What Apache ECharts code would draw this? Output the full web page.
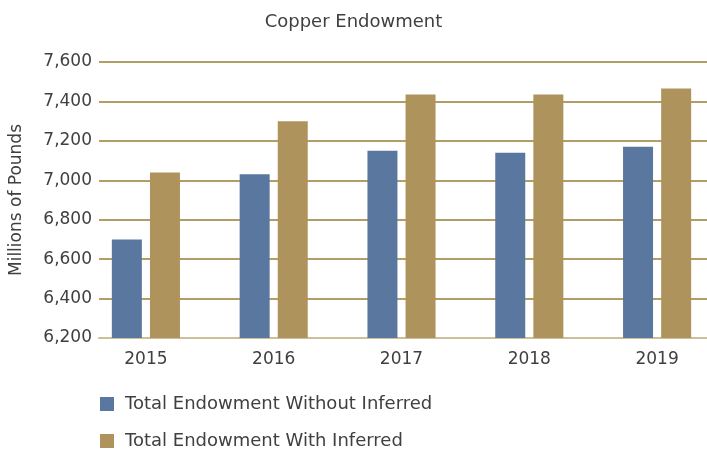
<!DOCTYPE html>
<html><head><meta charset="utf-8">
<script src="https://cdn.jsdelivr.net/npm/echarts@6/dist/echarts.min.js"></script>
<style>html,body{margin:0;padding:0;background:#fff}#c{width:707px;height:451px}</style>
</head><body><div id="c"></div>
<script>
const categories = ['2015', '2016', '2017', '2018', '2019'];
const withoutInferred = [6700, 7030, 7150, 7140, 7170];
const withInferred = [7040, 7300, 7435, 7435, 7465];
const seriesNames = ['Total Endowment Without Inferred', 'Total Endowment With Inferred'];
const yMin = 6200, yMax = 7600, yStep = 200;

const FONT = 'DejaVu Sans';
const TXT = '#404040';
const chart = echarts.init(document.getElementById('c'), null, {renderer: 'canvas'});
chart.setOption({
  animation: false,
  title: {text: 'Copper Endowment', left: 'center', top: 8,
    textStyle: {fontFamily: FONT, fontSize: 18, fontWeight: 'normal', color: TXT}},
  legend: {orient: 'vertical', left: 100, top: 394, height: 60, itemWidth: 14, itemHeight: 14, itemGap: 17,
    icon: 'rect', data: seriesNames, padding: 0,
    textStyle: {fontFamily: FONT, fontSize: 18, lineHeight: 20, color: TXT, padding: [0, 0, 0, 6]}},
  grid: [
    {left: 99, right: 0, top: 62, bottom: 113, outerBoundsMode: 'none'},
    {left: 82, right: -14, top: 62, bottom: 113, outerBoundsMode: 'none'}
  ],
  xAxis: [
    {gridIndex: 0, type: 'value', min: 0, max: 1, axisLabel: {show: false}, splitLine: {show: false},
      axisTick: {show: false}, axisLine: {show: true, lineStyle: {color: '#cdbf98', width: 2}}},
    {gridIndex: 1, type: 'category', data: categories, axisLine: {show: false}, axisTick: {show: false},
      axisLabel: {fontFamily: FONT, fontSize: 17, color: TXT, margin: 13}}
  ],
  yAxis: [
    {gridIndex: 0, type: 'value', min: yMin, max: yMax, interval: yStep,
      name: 'Millions of Pounds', nameLocation: 'middle', nameGap: 74,
      nameTextStyle: {fontFamily: FONT, fontSize: 17, color: TXT},
      axisLine: {show: false}, axisTick: {show: false},
      axisLabel: {fontFamily: FONT, fontSize: 17, color: TXT, margin: 7,
        formatter: v => v.toLocaleString('en-US')},
      splitLine: {lineStyle: {color: '#b39d66', width: 2}}},
    {gridIndex: 1, type: 'value', min: yMin, max: yMax, interval: yStep, show: false, splitLine: {show: false}}
  ],
  series: [
    {name: seriesNames[0], type: 'bar', xAxisIndex: 1, yAxisIndex: 1, data: withoutInferred,
      barWidth: 30, barGap: '27%', itemStyle: {color: '#5a77a0'}},
    {name: seriesNames[1], type: 'bar', xAxisIndex: 1, yAxisIndex: 1, data: withInferred,
      barWidth: 30, barGap: '27%', itemStyle: {color: '#ae945c'}}
  ]
});
</script></body></html>
